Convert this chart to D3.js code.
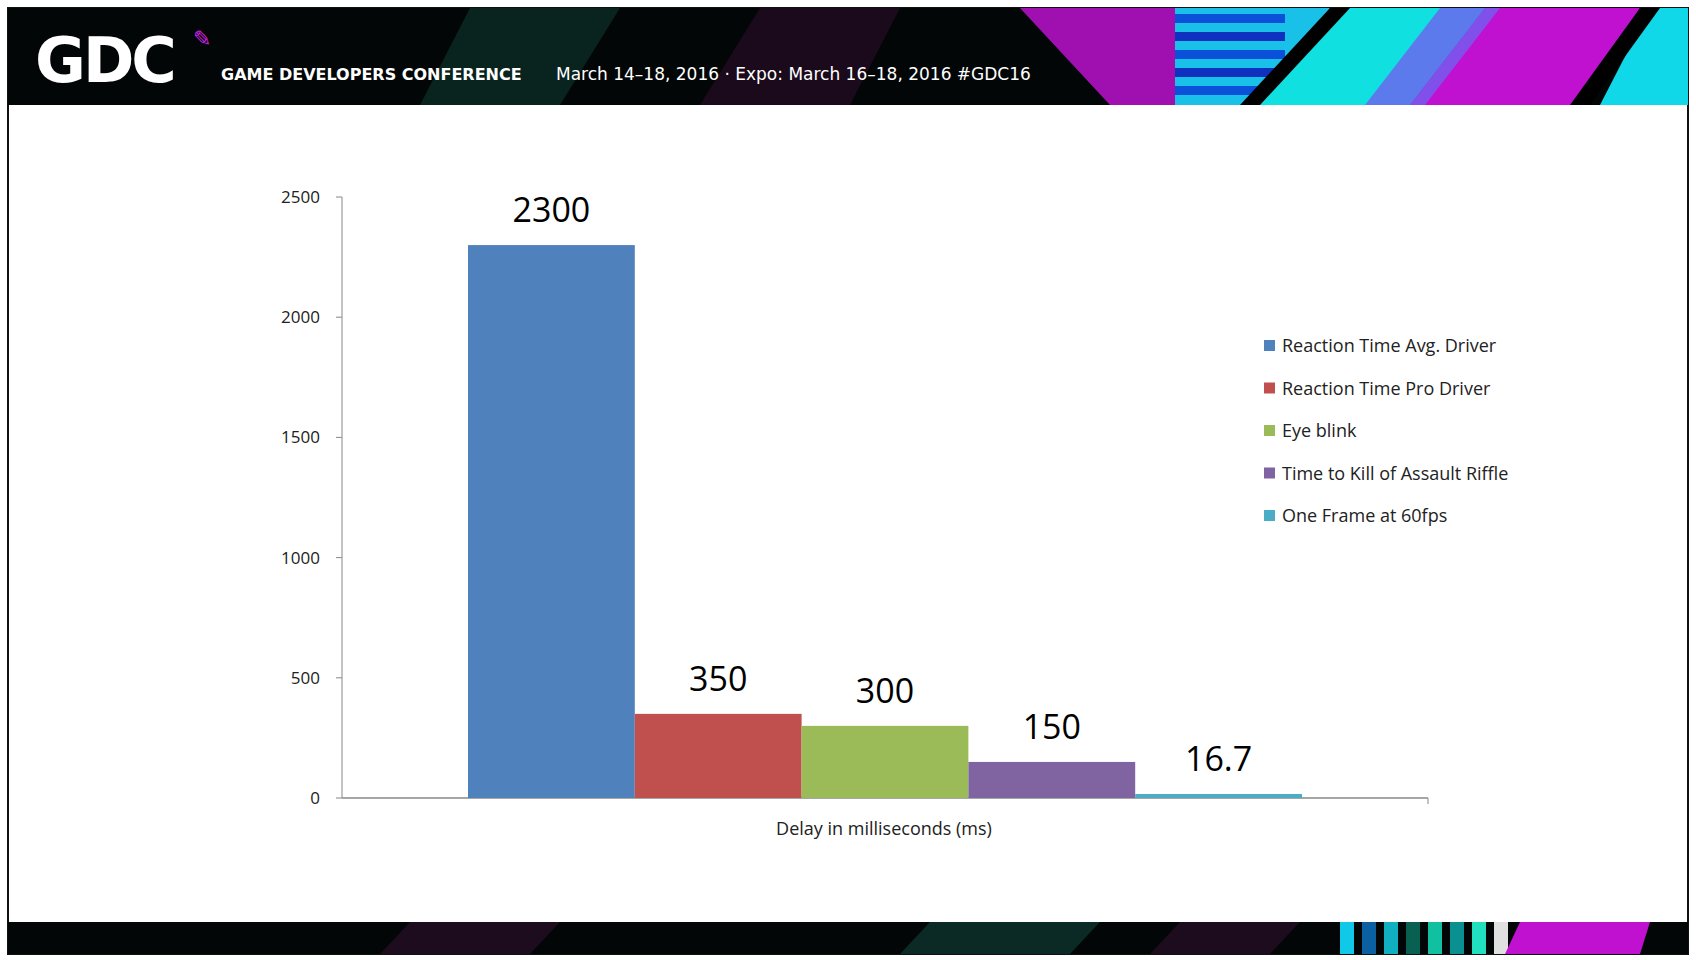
<!DOCTYPE html>
<html><head><meta charset="utf-8">
<script src="https://cdn.jsdelivr.net/npm/d3@7"></script>
<style>body{margin:0;background:#fff}svg{display:block}</style>
</head><body><svg id="c" width="1696" height="960"></svg>
<script>
const categories=["Reaction Time Avg. Driver","Reaction Time Pro Driver","Eye blink","Time to Kill of Assault Riffle","One Frame at 60fps"];
const values=[2300,350,300,150,16.7];
const labels=["2300","350","300","150","16.7"];
const colors=["#4F81BD","#C0504D","#9BBB59","#8064A2","#4BACC6"];
const yTicks=[0,500,1000,1500,2000,2500];
const xTitle="Delay in milliseconds (ms)";

const svg=d3.select("#c");
const W=1696,H=960;
// frame
svg.append("rect").attr("x",8).attr("y",8).attr("width",1680).attr("height",946).attr("fill","#fff").attr("stroke","#111").attr("stroke-width",2);
// header band
const hdr=svg.append("g");
hdr.append("rect").attr("x",8).attr("y",8).attr("width",1680).attr("height",97).attr("fill","#030607");
const tri=(pts,fill,op)=>hdr.append("polygon").attr("points",pts.map(p=>p.join(",")).join(" ")).attr("fill",fill).attr("opacity",op||1);
tri([[420,105],[470,8],[620,8],[560,105]],"#0b2a25",0.8);
tri([[700,105],[760,8],[900,8],[850,105]],"#1d0b1e",0.9);
tri([[1020,8],[1175,8],[1175,105],[1110,105]],"#a010b0");
tri([[1175,8],[1330,8],[1280,105],[1175,105]],"#19c0e8");
for(let i=0;i<5;i++) hdr.append("rect").attr("x",1175).attr("y",14+i*18).attr("width",110).attr("height",9).attr("fill",i%2?"#1030c0":"#0a50d8");
tri([[1345,8],[1485,8],[1410,105],[1250,105]],"#10e0e0");
tri([[1485,8],[1640,8],[1580,105],[1410,105]],"#c010d0");
tri([[1440,8],[1500,8],[1425,105],[1365,105]],"#7060f0",0.8);
tri([[1650,8],[1688,8],[1688,105],[1600,105]],"#10d8e8");
tri([[1330,8],[1350,8],[1260,105],[1240,105]],"#000");
tri([[1640,8],[1660,8],[1590,105],[1570,105]],"#000");
hdr.append("text").attr("x",35).attr("y",82).attr("font-family","DejaVu Sans").attr("font-weight","bold").attr("font-size",62).attr("fill","#fff").attr("letter-spacing","-3").text("GDC");
hdr.append("text").attr("x",193).attr("y",46).attr("font-family","DejaVu Sans").attr("font-size",22).attr("fill","#d020e0").text("✎");
hdr.append("text").attr("x",221).attr("y",80).attr("font-family","DejaVu Sans").attr("font-weight","bold").attr("font-size",16).attr("fill","#fff").text("GAME DEVELOPERS CONFERENCE");
hdr.append("text").attr("x",556).attr("y",80).attr("font-family","DejaVu Sans").attr("font-size",17).attr("fill","#fff").text("March 14–18, 2016 · Expo: March 16–18, 2016  #GDC16");
// footer band
const ft=svg.append("g");
ft.append("rect").attr("x",8).attr("y",922).attr("width",1680).attr("height",32).attr("fill","#030607");
[["#1d0b1e",380,560],["#0b2a25",900,1100],["#1d0b1e",1150,1300]].forEach(([c,a,b])=>ft.append("polygon").attr("points",`${a},954 ${a+30},922 ${b},922 ${b-30},954`).attr("fill",c));
const fc=["#10c8e8","#0a60a0","#10b0c0","#086050","#10c0a0","#0a9090","#20e0c0","#e0e0e0"];
fc.forEach((c,i)=>ft.append("rect").attr("x",1340+i*22).attr("y",922).attr("width",14).attr("height",32).attr("fill",c));
ft.append("polygon").attr("points","1520,922 1650,922 1640,954 1505,954").attr("fill","#c010d0");

// chart
const y=d3.scaleLinear().domain([0,2500]).range([798,197]);
const x=d3.scaleBand().domain(categories).range([468,1302]).padding(0);
const g=svg.append("g");
g.append("line").attr("x1",342).attr("x2",342).attr("y1",197).attr("y2",798).attr("stroke","#888");
g.append("line").attr("x1",342).attr("x2",1428).attr("y1",798).attr("y2",798).attr("stroke","#888").attr("stroke-width",1.5);
g.append("line").attr("x1",1428).attr("x2",1428).attr("y1",798).attr("y2",804).attr("stroke","#888");
yTicks.forEach(t=>{
  g.append("line").attr("x1",336).attr("x2",342).attr("y1",y(t)).attr("y2",y(t)).attr("stroke","#888");
  g.append("text").attr("x",320).attr("y",y(t)+6).attr("text-anchor","end").attr("font-family","Open Sans").attr("font-size",17).attr("fill","#222").text(t);
});
g.selectAll("rect.bar").data(categories).join("rect").attr("class","bar")
 .attr("x",d=>x(d)).attr("width",x.bandwidth()).attr("y",(d,i)=>y(values[i])).attr("height",(d,i)=>798-y(values[i])).attr("fill",(d,i)=>colors[i]);
g.selectAll("text.lab").data(categories).join("text").attr("class","lab")
 .attr("x",d=>x(d)+x.bandwidth()/2).attr("y",(d,i)=>y(values[i])-23).attr("text-anchor","middle")
 .attr("font-family","Open Sans").attr("font-size",34).attr("fill","#000").text((d,i)=>labels[i]);
g.append("text").attr("x",884).attr("y",835).attr("text-anchor","middle").attr("font-family","Open Sans").attr("font-size",18).attr("fill","#222").text(xTitle);
// legend
categories.forEach((c,i)=>{
  const ly=346+i*42.5;
  g.append("rect").attr("x",1264).attr("y",ly-6).attr("width",11).attr("height",11).attr("fill",colors[i]);
  g.append("text").attr("x",1282).attr("y",ly+6).attr("font-family","Open Sans").attr("font-size",18).attr("fill","#222").text(c);
});
</script></body></html>
